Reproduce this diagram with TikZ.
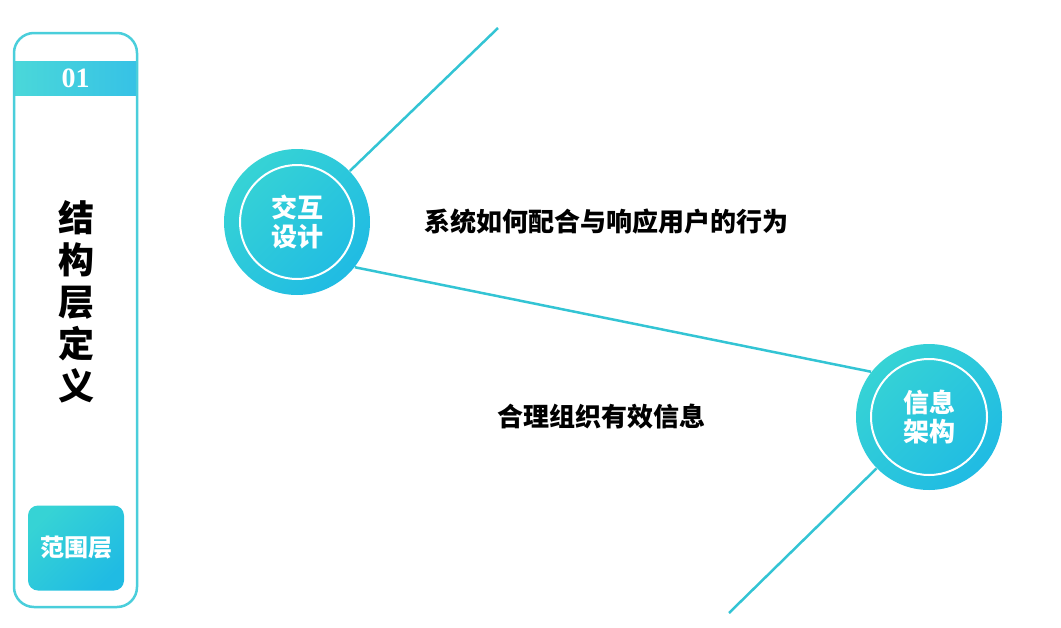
\documentclass[tikz,border=0pt]{standalone}
\usepackage{fontspec}
\newfontfamily\cjk{Noto Sans CJK SC}
\newfontfamily\numfont{Liberation Serif}
\usetikzlibrary{backgrounds,positioning,shapes}
\definecolor{tealL}{HTML}{36D3D5}
\definecolor{cyanR}{HTML}{20BBE3}
\definecolor{linec}{HTML}{33C4D4}
\definecolor{framec}{HTML}{4ACEDB}

\begin{document}
\begin{tikzpicture}[x=1pt, y=-1pt, line width=1pt, black,
    bubble/.style={circle, minimum size=146pt, inner sep=0pt, align=center, text=white,
        top color=tealL, bottom color=cyanR, shading angle=45,
        font=\cjk\bfseries\fontsize{26}{29}\selectfont},
    ring/.style={draw=white, line width=2pt},
    desc/.style={inner sep=0pt, font=\cjk\bfseries\fontsize{26}{30}\selectfont},
    link/.style={draw=linec, line width=2.5pt},
    hdr/.style={rectangle, minimum width=121pt, minimum height=34pt, inner sep=0pt, text=white,
        left color=tealL!90, right color=cyanR!90, font=\numfont\bfseries\fontsize{28}{30}\selectfont},
    tagbox/.style={rectangle, rounded corners=10pt, minimum width=96pt, minimum height=85pt, inner sep=0pt,
        text=white, top color=tealL, bottom color=cyanR, shading angle=45,
        font=\cjk\bfseries\fontsize{24}{26}\selectfont}]
    \useasboundingbox (0,0) rectangle (1061,627);

    %Left panel
    \node (num)   [hdr]    at (75.5,78) {01};
    \node (panel) [rectangle, draw=framec, line width=2.5pt, rounded corners=20pt,
                   minimum width=123pt, minimum height=574pt] at (75.5,320) {};
    \node (title) [align=center, inner sep=0pt, font=\cjk\bfseries\fontsize{36}{42}\selectfont]
                   at (76,302) {结\\构\\层\\定\\义};
    \node (scope) [tagbox] at (76,548) {范围层};

    %Nodes
    \node (inter) [bubble] at (297,222) {交互\\设计};
    \node (info)  [bubble] at (929,417) {信息\\架构};
    \draw[ring] (inter) circle [radius=57pt];
    \draw[ring] (info)  circle [radius=58pt];

    % Text labels
    \node (d1) [desc] at (606,222) {系统如何配合与响应用户的行为};
    \node (d2) [desc] at (601,417) {合理组织有效信息};

    %Lines
    \coordinate (topend) at (498,28);
    \coordinate (botend) at (729,613);
    \begin{scope}[on background layer]
    \draw[link] (inter)     -- (topend);
    \draw[link] (inter.-38) -- (info.142);
    \draw[link] (info)      -- (botend);
    \end{scope}
\end{tikzpicture}
\end{document}
